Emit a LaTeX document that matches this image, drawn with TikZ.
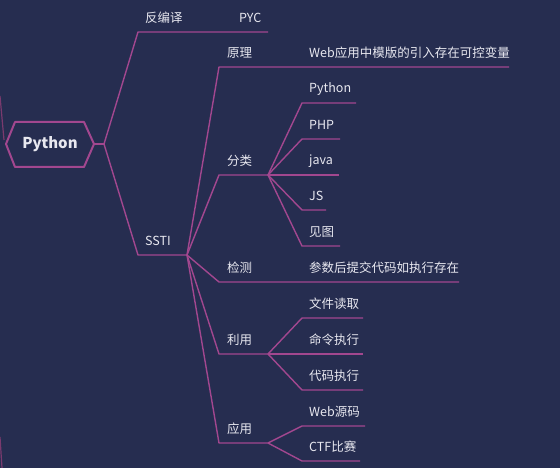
\documentclass[tikz,border=0pt]{standalone}
\usepackage{fontspec}
\setmainfont{Noto Sans CJK SC}
\definecolor{bg}{HTML}{262D50}
\definecolor{ln}{HTML}{A2478F}
\definecolor{lnd}{HTML}{7A3A6E}
\definecolor{tx}{HTML}{E8E8F0}
\begin{document}
\begin{tikzpicture}[x=1pt,y=-1pt,line join=round,
  edge/.style={draw=ln,line width=1.4pt},
  lbl/.style={anchor=west,text=tx,inner sep=0pt,font=\fontsize{12.5}{14}\selectfont},
  rootlbl/.style={text=tx,inner sep=0pt,font=\fontsize{15}{17}\selectfont\bfseries}]
\fill[bg] (0,0) rectangle (560,468);
\useasboundingbox (0,0) rectangle (560,468);
% stray edges from an off-screen parent
\draw[lnd,line width=1.2pt] (0,96) -- (4,140);
\draw[lnd,line width=1.2pt] (0,437) -- (2,468);
% root
\coordinate (hL) at (6,144);
\coordinate (hTL) at (15,122);
\coordinate (hTR) at (84,122);
\coordinate (hR) at (94,144);
\coordinate (hBR) at (84,167);
\coordinate (hBL) at (15,167);
\draw[ln,line width=2pt] (hL) -- (hTL) -- (hTR) -- (hR) -- (hBR) -- (hBL) -- cycle;
\node[rootlbl] (root) at (50,144) {Python};
% coordinates
\coordinate (r1) at (104,144);
\coordinate (fby) at (138,32);
\coordinate (pycS) at (231,32);
\coordinate (pycE) at (268,32);
\coordinate (ssti) at (138,255);
\coordinate (sstiE) at (187,255);
\coordinate (yl) at (219,67);
\coordinate (ylE) at (302,67);
\coordinate (ylC) at (509,67);
\coordinate (fl) at (219,175);
\coordinate (flE) at (268,175);
\coordinate (c1) at (302,103); \coordinate (c1e) at (356,103);
\coordinate (c2) at (302,139); \coordinate (c2e) at (340,139);
\coordinate (c3e) at (339,175);
\coordinate (c4) at (302,210); \coordinate (c4e) at (326,210);
\coordinate (c5) at (302,246); \coordinate (c5e) at (340,246);
\coordinate (jc) at (219,282); \coordinate (jcE) at (459,282);
\coordinate (ly) at (219,354); \coordinate (lyE) at (268,354);
\coordinate (u1) at (302,318); \coordinate (u1e) at (363,318);
\coordinate (u2e) at (363,354);
\coordinate (u3) at (302,390); \coordinate (u3e) at (363,390);
\coordinate (yy) at (219,443); \coordinate (yyE) at (268,443);
\coordinate (a1) at (302,426); \coordinate (a1e) at (365,426);
\coordinate (a2) at (302,461); \coordinate (a2e) at (360,461);
% edges
\draw[edge] (hR) -- (r1);
\draw[edge] (r1) -- (fby) -- (pycS) -- (pycE);
\draw[edge] (r1) -- (ssti) -- (sstiE);
\draw[edge] (sstiE) -- (yl) -- (ylE) -- (ylC);
\draw[edge] (sstiE) -- (fl) -- (flE);
\draw[edge] (flE) -- (c1) -- (c1e);
\draw[edge] (flE) -- (c2) -- (c2e);
\draw[edge] (flE) -- (c3e);
\draw[edge] (flE) -- (c4) -- (c4e);
\draw[edge] (flE) -- (c5) -- (c5e);
\draw[edge] (sstiE) -- (jc) -- (jcE);
\draw[edge] (sstiE) -- (ly) -- (lyE);
\draw[edge] (lyE) -- (u1) -- (u1e);
\draw[edge] (lyE) -- (u2e);
\draw[edge] (lyE) -- (u3) -- (u3e);
\draw[edge] (sstiE) -- (yy) -- (yyE);
\draw[edge] (yyE) -- (a1) -- (a1e);
\draw[edge] (yyE) -- (a2) -- (a2e);
% labels
\node[lbl] (tfby) at (145,18) {反编译};
\node[lbl] (tpyc) at (239,18) {PYC};
\node[lbl] (tssti) at (145,241) {SSTI};
\node[lbl] (tyl) at (227,53) {原理};
\node[lbl] (tylc) at (309,53) {Web应用中模版的引入存在可控变量};
\node[lbl] (tfl) at (227,161) {分类};
\node[lbl] (tc1) at (309,89) {Python};
\node[lbl] (tc2) at (309,125) {PHP};
\node[lbl] (tc3) at (309,161) {java};
\node[lbl] (tc4) at (309,196) {JS};
\node[lbl] (tc5) at (309,232) {见图};
\node[lbl] (tjc) at (227,268) {检测};
\node[lbl] (tjcc) at (309,268) {参数后提交代码如执行存在};
\node[lbl] (tly) at (227,340) {利用};
\node[lbl] (tu1) at (309,304) {文件读取};
\node[lbl] (tu2) at (309,340) {命令执行};
\node[lbl] (tu3) at (309,376) {代码执行};
\node[lbl] (tyy) at (227,429) {应用};
\node[lbl] (ta1) at (309,412) {Web源码};
\node[lbl] (ta2) at (309,447) {CTF比赛};
\end{tikzpicture}
\end{document}
